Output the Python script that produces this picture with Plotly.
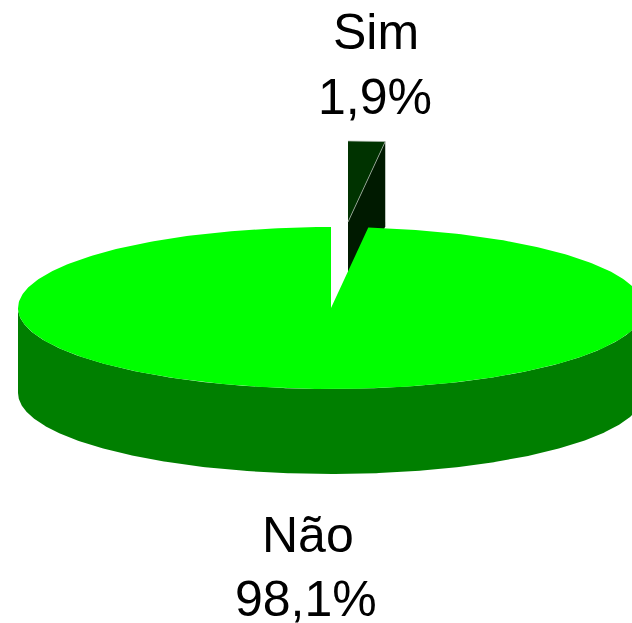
import numpy as np
import plotly.graph_objects as go

labels = ["Sim", "Não"]
values = [1.9, 98.1]
percent_text = ["1,9%", "98,1%"]

W, H = 632, 623
CX, CY, RX, RY, DEPTH = 331, 308, 313, 81, 85
EXPLODE_DX, EXPLODE_DY = 17, -86
C_MAIN_TOP, C_MAIN_SIDE = "#00ff00", "#007f00"
C_SIM_TOP, C_SIM_CUT = "#003300", "#001a00"
EDGE = "#b4bdb4"
LABEL_POS = [((376, 32), (375, 97)), ((308, 535), (306, 599))]


def rim(a0, a1, cx=CX, cy=CY, n=400):
    """Ellipse points for clockwise-from-top angles in degrees."""
    t = np.radians(np.linspace(a0, a1, n))
    return cx + RX * np.sin(t), cy - RY * np.cos(t)


def area(x, y, color):
    return go.Scatter(x=list(x), y=list(y), mode="lines", fill="toself",
                      fillcolor=color, line=dict(width=0), hoverinfo="skip",
                      showlegend=False)


sweep = 360 * values[0] / sum(values)
sx, sy = CX + EXPLODE_DX, CY + EXPLODE_DY

fig = go.Figure()

# exploded "Sim" slice: cut face, then top face
ax, ay = rim(0, sweep, sx, sy)
fig.add_trace(area([sx, ax[-1], ax[-1], sx], [sy, ay[-1], ay[-1] + DEPTH, sy + DEPTH], C_SIM_CUT))
fig.add_trace(area(np.r_[sx, ax], np.r_[sy, ay], C_SIM_TOP))
fig.add_trace(go.Scatter(x=np.r_[sx, ax[-1], ax[::-1]], y=np.r_[sy, ay[-1], ay[::-1]],
                         mode="lines", line=dict(color=EDGE, width=0.7),
                         hoverinfo="skip", showlegend=False))

# "Não" slice: outer wall, then top face
bx, by = rim(90, 270)
fig.add_trace(area(np.r_[bx, bx[::-1]], np.r_[by, by[::-1] + DEPTH], C_MAIN_SIDE))
mx, my = rim(sweep, 360)
fig.add_trace(area(np.r_[CX, mx], np.r_[CY, my], C_MAIN_TOP))

for i, name in enumerate(labels):
    for text, (x, y) in zip((name, percent_text[i]), LABEL_POS[i]):
        fig.add_annotation(x=x, y=y, text=text, showarrow=False, xanchor="center",
                           yanchor="middle", font=dict(family="Liberation Sans", size=50, color="#000000"))

fig.update_layout(
    width=W, height=H, margin=dict(l=0, r=0, t=0, b=0),
    paper_bgcolor="#ffffff", plot_bgcolor="#ffffff", showlegend=False,
    xaxis=dict(range=[0, W], visible=False, fixedrange=True),
    yaxis=dict(range=[H, 0], visible=False, fixedrange=True),
)
fig.write_html("out.html", config={"displayModeBar": False},
               post_script="document.body.style.margin='0';document.documentElement.style.overflow='hidden';")
